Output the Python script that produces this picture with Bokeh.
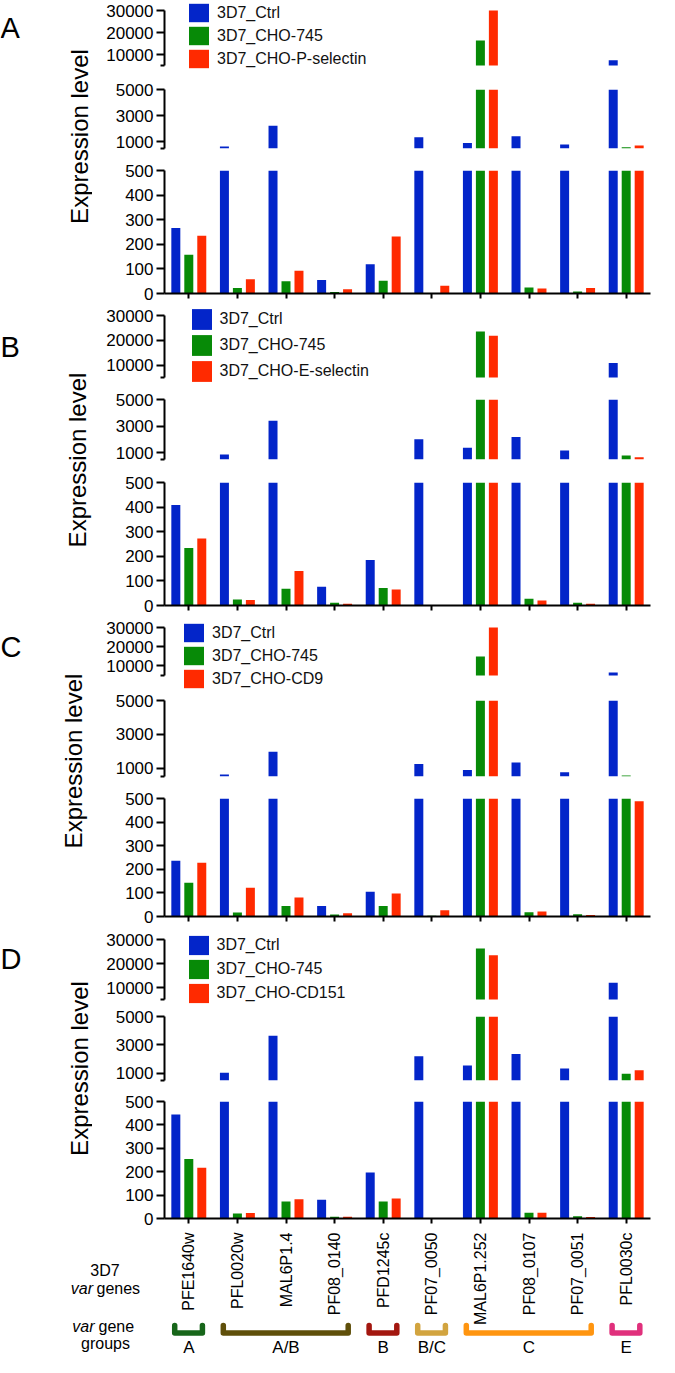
import numpy as np
from bokeh.plotting import figure
from bokeh.models import (FactorRange, Range1d, FixedTicker, NumeralTickFormatter,
                          ColumnDataSource, Legend, LegendItem, CustomLabelingPolicy)
from bokeh.transform import dodge
from bokeh.layouts import column, row
from bokeh.core.properties import value
from bokeh.embed import file_html
from bokeh.resources import INLINE

# ---------------- data ----------------
GENES = ["PFE1640w", "PFL0020w", "MAL6P1.4", "PF08_0140", "PFD1245c",
         "PF07_0050", "MAL6P1.252", "PF08_0107", "PF07_0051", "PFL0030c"]

A_NAMES = ["3D7_Ctrl", "3D7_CHO-745", "3D7_CHO-P-selectin"]
A_CTRL = [266, 650, 2240, 55, 119, 1355, 924, 1430, 804, 7400]
A_CHO745 = [158, 22, 50, 6, 52, 0, 16400, 24, 8, 600]
A_PSEL = [235, 58, 92, 17, 232, 31, 30000, 20, 22, 730]

B_NAMES = ["3D7_Ctrl", "3D7_CHO-745", "3D7_CHO-E-selectin"]
B_CTRL = [409, 873, 3407, 76, 185, 2011, 1381, 2193, 1176, 10800]
B_CHO745 = [234, 24, 68, 11, 71, 0, 23500, 27, 11, 797]
B_ESEL = [272, 22, 140, 7, 65, 0, 21800, 20, 7, 675]

C_NAMES = ["3D7_Ctrl", "3D7_CHO-745", "3D7_CHO-CD9"]
C_CTRL = [236, 614, 1959, 45, 105, 1234, 883, 1333, 749, 6500]
C_CHO745 = [143, 17, 45, 8, 45, 3, 14900, 18, 10, 560]
C_CD9 = [228, 122, 80, 14, 97, 27, 30000, 21, 6, 488]

D_NAMES = ["3D7_Ctrl", "3D7_CHO-745", "3D7_CHO-CD151"]
D_CTRL = [444, 1050, 3650, 80, 197, 2200, 1560, 2370, 1340, 12000]
D_CHO745 = [254, 21, 73, 7, 73, 0, 26300, 25, 10, 980]
D_CD151 = [217, 24, 82, 7, 86, 0, 23400, 25, 6, 1220]

GROUPS = ["A", "A/B", "B", "B/C", "C", "E"]
GROUP_FIRST = [0, 1, 4, 5, 6, 9]
GROUP_LAST = [0, 3, 4, 5, 8, 9]
GROUP_COLORS = ["#17661a", "#5f4f0a", "#a3170f", "#d2a43f", "#ff9510", "#e0307c"]

SEG_LIMITS = [(5000, 30000), (500, 5000), (0, 500)]
SEG_TICKS = [[10000, 20000, 30000], [1000, 3000, 5000], [0, 100, 200, 300, 400, 500]]

COLORS = ["#0325c9", "#078a07", "#ff2a00"]

# ---------------- layout constants ----------------
FONT = value("Liberation Sans")
LEFT_W = 92
SEG_LB = 72
FRAME_W = 486
SEG_RB = 8
SEG_W = SEG_LB + FRAME_W + SEG_RB
CAT_PX = FRAME_W / len(GENES)
BAR_W = 0.185
OFFS = [-0.267, 0.0, 0.267]

# frames: axis extents (page px) of each segment; lframe: frame of the top
# segment enlarged to hold the legend; legend: (x offset, top px, glyph height)
PANELS = [
    dict(letter="A", names=A_NAMES, data=[A_CTRL, A_CHO745, A_PSEL],
         frames=[(18, 73), (97, 156), (178, 301)], bounds=[8, 85, 167, 311],
         lframe=(8, 80), legend=(22, 9, 23), ylab=(87, 144), lety=35),
    dict(letter="B", names=B_NAMES, data=[B_CTRL, B_CHO745, B_ESEL],
         frames=[(323, 385), (407, 467), (490, 613)], bounds=[311, 396, 478, 623],
         lframe=(313, 394), legend=(24.5, 314, 26), ylab=(85, 467.5), lety=354),
    dict(letter="C", names=C_NAMES, data=[C_CTRL, C_CHO745, C_CD9],
         frames=[(635, 683), (708, 784), (806, 924)], bounds=[623, 698, 795, 935],
         lframe=(629, 698), legend=(17, 629, 23), ylab=(81, 768.5), lety=654),
    dict(letter="D", names=D_NAMES, data=[D_CTRL, D_CHO745, D_CD151],
         frames=[(947, 1007), (1024, 1088), (1109, 1226)], bounds=[935, 1014, 1098, 1236],
         lframe=(940, 1014), legend=(21.5, 941, 24), ylab=(86.5, 1076), lety=966),
]
FOOT_TOP = 1236
FOOT_BOT = 1365

XR = FactorRange(factors=GENES)
NO_LABELS = CustomLabelingPolicy(code="return []")


def seg_figure(seg, top_page, bot_page, ax, fr, data, names, legend_cfg):
    lo, hi = SEG_LIMITS[seg]
    is_bottom = seg == 2
    upp = (hi - lo) / (ax[1] - ax[0])
    y0 = lo - (fr[1] - ax[1]) * upp
    y1 = hi + (ax[0] - fr[0]) * upp
    p = figure(width=SEG_W, height=bot_page - top_page, x_range=XR,
               y_range=Range1d(y0, y1), title=None,
               min_border_left=SEG_LB, min_border_right=SEG_RB,
               min_border_top=fr[0] - top_page, min_border_bottom=bot_page - fr[1],
               toolbar_location=None, output_backend="svg",
               x_axis_location="below" if is_bottom else None)
    p.grid.visible = False
    p.outline_line_color = None
    p.background_fill_color = "white"
    p.border_fill_color = "white"

    ya = p.yaxis[0]
    ya.bounds = (lo, hi)
    ya.ticker = FixedTicker(ticks=SEG_TICKS[seg], minor_ticks=[] if is_bottom else [lo])
    ya.formatter = NumeralTickFormatter(format="0")
    ya.axis_line_width = 2
    ya.axis_line_color = "black"
    ya.major_tick_line_width = 2
    ya.major_tick_out = 8
    ya.major_tick_in = 0
    ya.minor_tick_line_width = 2
    ya.minor_tick_out = 4
    ya.minor_tick_in = 0
    ya.major_label_text_font = "Liberation Sans"
    ya.major_label_text_font_size = "17px"
    ya.major_label_text_color = "black"
    ya.major_label_standoff = 3

    if is_bottom:
        xa = p.xaxis[0]
        xa.axis_line_width = 2
        xa.axis_line_color = "black"
        xa.major_tick_line_width = 2
        xa.major_tick_out = 5
        xa.major_tick_in = 0
        xa.major_label_text_font_size = "0px"
        xa.major_label_standoff = 0
        xa.major_label_policy = NO_LABELS

    rends = []
    for k in range(3):
        v = np.asarray(data[k], dtype=float)
        mask = v > lo
        src = ColumnDataSource(dict(
            gene=[g for g, m in zip(GENES, mask) if m],
            top=np.minimum(v[mask], hi)))
        r = p.vbar(x=dodge("gene", OFFS[k], range=XR), top="top", bottom=lo,
                   width=BAR_W, source=src, fill_color=COLORS[k], line_color=None)
        rends.append(r)

    if legend_cfg is not None:
        lx, ltop, gh = legend_cfg
        vy = fr[1] - (ltop + 3 * gh)
        leg = Legend(items=[LegendItem(label=n, renderers=[r]) for n, r in zip(names, rends)],
                     location=(lx, vy), padding=0, margin=0, spacing=0,
                     glyph_width=25, glyph_height=gh, label_height=20,
                     label_standoff=6, border_line_color=None,
                     background_fill_alpha=0,
                     label_text_font="Liberation Sans", label_text_font_size="16px",
                     label_text_color="#111111")
        p.add_layout(leg)
    return p


def blank_fig(width, height, xr, yr):
    f = figure(width=width, height=height, x_range=xr, y_range=yr, title=None,
               min_border=0, toolbar_location=None, output_backend="svg",
               x_axis_location=None, y_axis_location=None)
    f.grid.visible = False
    f.outline_line_color = None
    f.background_fill_color = "white"
    f.border_fill_color = "white"
    return f


rows = []
for P in PANELS:
    b = P["bounds"]
    segs = []
    for s in range(3):
        ax = P["frames"][s]
        fr = P["lframe"] if s == 0 else ax
        segs.append(seg_figure(s, b[s], b[s + 1], ax, fr, P["data"], P["names"],
                               P["legend"] if s == 0 else None))
    H = b[3] - b[0]
    lf = blank_fig(LEFT_W, H, Range1d(0, LEFT_W), Range1d(H, 0))
    lf.text(x=[P["ylab"][0] - 8], y=[P["ylab"][1] - b[0]], text=["Expression level"],
            angle=np.pi / 2, text_align="center", text_baseline="middle",
            text_font=FONT, text_font_size="24px", text_color="black")
    lf.text(x=[0], y=[P["lety"] - b[0]], text=[P["letter"]],
            text_align="left", text_baseline="alphabetic",
            text_font=FONT, text_font_size="29px", text_color="black")
    rows.append(row(lf, column(*segs)))

# ---------------- footer: gene names, var gene groups ----------------
FH = FOOT_BOT - FOOT_TOP
FW = LEFT_W + SEG_W
fx0 = -(LEFT_W + SEG_LB) / CAT_PX
fx1 = len(GENES) + SEG_RB / CAT_PX
foot = blank_fig(FW, FH, Range1d(fx0, fx1), Range1d(FH, 0))


def ux(page_x):
    return (page_x - (8 + LEFT_W + SEG_LB)) / CAT_PX


def uy(page_y):
    return page_y - FOOT_TOP


centers = np.arange(len(GENES)) + 0.5
foot.text(x=centers, y=[uy(1240)] * len(GENES), text=GENES, angle=np.pi / 2,
          text_align="right", text_baseline="middle", text_font=FONT,
          text_font_size="16px", text_color="black")

foot.text(x=[ux(112.5)], y=[uy(1278.3)], text=["3D7"], text_align="center",
          text_baseline="alphabetic", text_font=FONT, text_font_size="16px", text_color="black")
foot.text(x=[ux(100.5)], y=[uy(1295.5)], text=["var"], text_align="right",
          text_baseline="alphabetic", text_font=FONT, text_font_style="italic",
          text_font_size="16px", text_color="black")
foot.text(x=[ux(104)], y=[uy(1295.5)], text=["genes"], text_align="left",
          text_baseline="alphabetic", text_font=FONT, text_font_size="16px", text_color="black")
foot.text(x=[ux(102)], y=[uy(1333.5)], text=["var"], text_align="right",
          text_baseline="alphabetic", text_font=FONT, text_font_style="italic",
          text_font_size="16px", text_color="black")
foot.text(x=[ux(106)], y=[uy(1333.5)], text=["gene"], text_align="left",
          text_baseline="alphabetic", text_font=FONT, text_font_size="16px", text_color="black")
foot.text(x=[ux(113)], y=[uy(1350.5)], text=["groups"], text_align="center",
          text_baseline="alphabetic", text_font=FONT, text_font_size="16px", text_color="black")

br_top = uy(1333)
br_bot = uy(1340.5)
xs, ys = [], []
for f, l in zip(GROUP_FIRST, GROUP_LAST):
    x0 = f + 0.5 - 0.29
    x1 = l + 0.5 + 0.28
    xs.append([x0, x0, x1, x1])
    ys.append([br_top, br_bot, br_bot, br_top])
foot.multi_line(xs=xs, ys=ys, line_color=GROUP_COLORS, line_width=5.5,
                line_join="round", line_cap="round")
gcent = [(f + l) / 2 + 0.5 for f, l in zip(GROUP_FIRST, GROUP_LAST)]
foot.text(x=gcent, y=[uy(1354.5)] * len(GROUPS), text=GROUPS, text_align="center",
          text_baseline="middle", text_font=FONT, text_font_size="17px", text_color="black")

layout = column(*rows, foot)

open("out.html", "w").write(file_html(layout, INLINE))
